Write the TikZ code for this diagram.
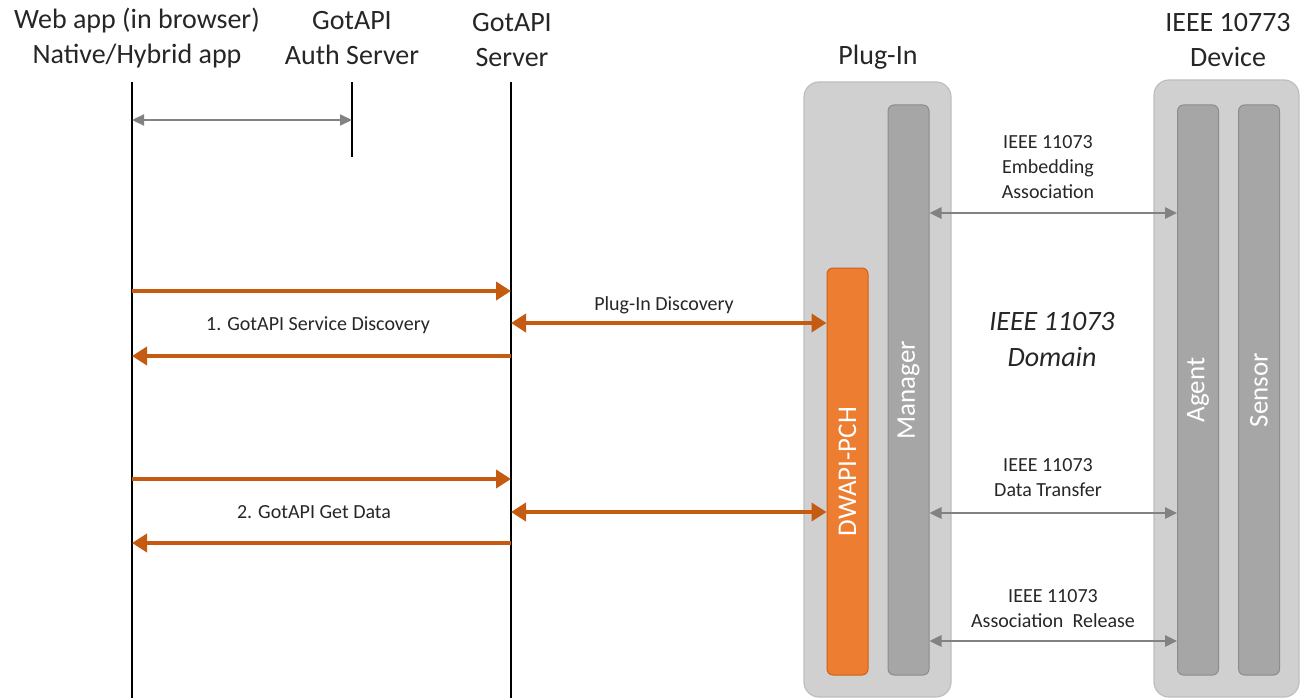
\documentclass[tikz,border=0pt]{standalone}
\usepackage{fontspec}
\setmainfont{Carlito}
\usetikzlibrary{arrows.meta,positioning}

\definecolor{txtgray}{RGB}{38,38,38}
\definecolor{msgorange}{RGB}{197,90,17}
\definecolor{pchorange}{RGB}{237,125,49}
\definecolor{boxgray}{RGB}{208,208,208}
\definecolor{boxline}{RGB}{190,190,190}
\definecolor{bargray}{RGB}{166,166,166}
\definecolor{barline}{RGB}{140,140,140}
\definecolor{linkgray}{RGB}{130,130,130}

\tikzset{
  head/.style={align=center, text=txtgray, font=\fontsize{28}{35}\selectfont},
  lbl/.style={align=center, text=txtgray, font=\fontsize{20}{25}\selectfont},
  domainlbl/.style={align=center, text=txtgray, font=\fontsize{28}{36}\selectfont\itshape},
  lifeline/.style={draw=black, line width=2pt},
  outerbox/.style={draw=boxline, fill=boxgray, line width=1.2pt, rounded corners=15pt, inner sep=0pt, minimum width=147pt},
  barbox/.style={draw=barline, fill=bargray, line width=1pt, rounded corners=6pt, inner sep=0pt, minimum width=41pt},
  pchbox/.style={draw=msgorange!80!pchorange, fill=pchorange, line width=1pt, rounded corners=6pt, inner sep=0pt, minimum width=41pt},
  barlabel/.style={rotate=90, text=white, font=\fontsize{27}{30}\selectfont},
  req/.style={draw=msgorange, line width=4.5pt, -{Triangle[length=15pt,width=18pt]}},
  twoway/.style={draw=msgorange, line width=4.5pt, {Triangle[length=15pt,width=18pt]}-{Triangle[length=15pt,width=18pt]}},
  link/.style={draw=linkgray, line width=2.6pt, {Triangle[length=12pt,width=11pt]}-{Triangle[length=12pt,width=11pt]}}
}

\begin{document}
\begin{tikzpicture}[x=1pt,y=-1pt]
  \useasboundingbox (0,0) rectangle (1301,698);

  % column heads
  \begin{scope}[every node/.style={head}]
    \node (apphead)    at (137,38)  {Web app (in browser)\\Native/Hybrid app};
    \node (authhead)   at (352,38)  {GotAPI\\Auth Server};
    \node (srvhead)    at (512,40)  {GotAPI\\Server};
    \node (pluginhead) at (878,57)  {Plug-In};
    \node (devhead)    at (1228,40) {IEEE 10773\\Device};
  \end{scope}

  % plug-in and device
  \node[outerbox, minimum height=615pt] (plugin) at (877.5,389.5) {};
  \node[outerbox, minimum width=145pt, minimum height=617pt] (device) at (1226.5,388.5) {};
  \node[barbox, minimum height=570pt] (mgr)    at (908.5,390)  {};
  \node[pchbox, minimum height=407pt] (pch)    at (847.5,471.5) {};
  \node[barbox, minimum height=570pt] (agent)  at (1198,390)   {};
  \node[barbox, minimum height=570pt] (sensor) at (1259,390)   {};

  \node[barlabel] (mgrtext)    at (mgr.center)    {Manager};
  \node[barlabel] (pchtext)    at (pch.center)    {DWAPI-PCH};
  \node[barlabel] (agenttext)  at (agent.center)  {Agent};
  \node[barlabel] (sensortext) at (sensor.center) {Sensor};

  % lifelines
  \coordinate (apptop)  at (132,82);
  \coordinate (appbot)  at (132,698);
  \coordinate (authtop) at (352,82);
  \coordinate (authbot) at (352,157);
  \coordinate (srvtop)  at (511,82);
  \coordinate (srvbot)  at (511,698);
  \draw[lifeline] (apptop) -- (appbot);
  \draw[lifeline] (authtop) -- (authbot);
  \draw[lifeline] (srvtop) -- (srvbot);

  % message levels
  \coordinate (auth) at (0,120);
  \coordinate (q1) at (0,291);
  \coordinate (d1) at (0,323);
  \coordinate (r1) at (0,356);
  \coordinate (q2) at (0,479);
  \coordinate (d2) at (0,512);
  \coordinate (r2) at (0,543);
  \coordinate (e1) at (0,213);
  \coordinate (e2) at (0,513);
  \coordinate (e3) at (0,641);

  \draw[link, line width=2.2pt] (apptop |- auth) -- (authtop |- auth);

  \draw[req] (apptop |- q1) -- (srvtop |- q1);
  \draw[req] (srvtop |- r1) -- (apptop |- r1);
  \draw[twoway] (srvtop |- d1) -- (pch.west |- d1);
  \draw[req] (apptop |- q2) -- (srvtop |- q2);
  \draw[req] (srvtop |- r2) -- (apptop |- r2);
  \draw[twoway] (srvtop |- d2) -- (pch.west |- d2);

  \draw[link] (mgr.east |- e1) -- (agent.west |- e1);
  \draw[link] (mgr.east |- e2) -- (agent.west |- e2);
  \draw[link] (mgr.east |- e3) -- (agent.west |- e3);

  % labels
  \begin{scope}[every node/.style={lbl}]
    \node (svcdisc)  at (318,325)  {1. GotAPI Service Discovery};
    \node (getdata)  at (314,512)  {2. GotAPI Get Data};
    \node (plugdisc) at (664,305)  {Plug-In Discovery};
    \node (assoc)    at (1048,167) {IEEE 11073\\Embedding\\Association};
    \node (transfer) at (1048,478) {IEEE 11073\\Data Transfer};
    \node (release)  at (1053,609) {IEEE 11073\\Association~ Release};
  \end{scope}
  \node[domainlbl] (domaintext) at (1052,340) {IEEE 11073\\Domain};

\end{tikzpicture}
\end{document}
